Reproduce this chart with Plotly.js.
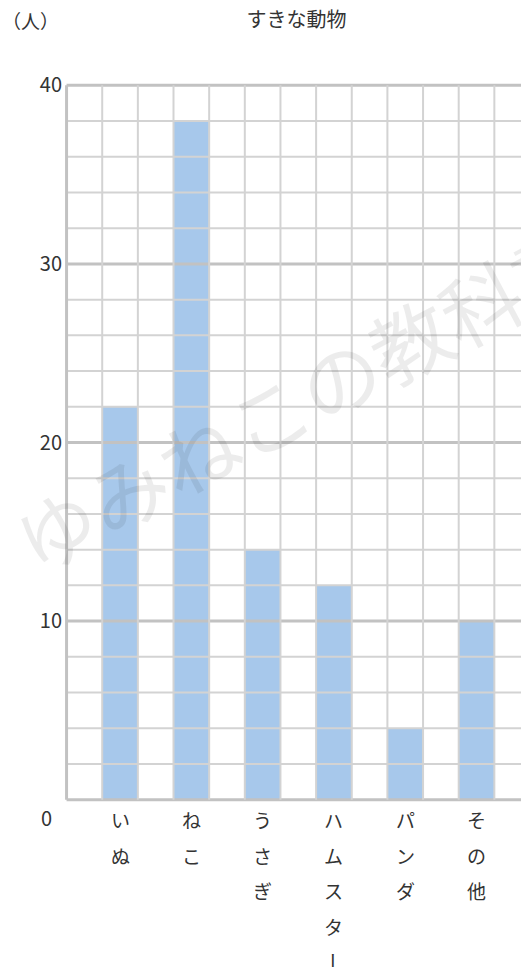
<!DOCTYPE html>
<html>
<head>
<meta charset="utf-8">
<script src="https://cdn.plot.ly/plotly-3.0.1.min.js"></script>
<style>
html,body{margin:0;padding:0;overflow:hidden;background:#fff;}
</style>
</head>
<body>
<div id="chart"></div>
<script>
// ---- data ----
const categories = ["いぬ", "ねこ", "うさぎ", "ハムスター", "パンダ", "その他"];
const counts = [22, 38, 14, 12, 4, 10];
const yTickVals = [10, 20, 30, 40];
const yTickText = ["10", "20", "30", "40"];
const titleText = "すきな動物";
const unitText = "（人）";
const watermarkText = "ゆみねこの教科書";

// ---- style ----
const FONT = "'Noto Sans CJK JP', 'Noto Sans', sans-serif";
const TEXT_COLOR = "#333333";
const BAR_COLOR = "#a7c8eb";
const MINOR = "#d3d3d3";
const MAJOR = "#c2c2c2";

const xIdx = categories.map((_, i) => i);
const yMax = 40, yMin = 0;
const xLeft = -0.75, xRight = 5.75;

const shapes = [];
// horizontal grid (every 2, heavier every 10) drawn above bars
for (let v = yMin; v <= yMax; v += 2) {
  const major = v % 10 === 0;
  shapes.push({type: "line", xref: "x", yref: "y", x0: xLeft, x1: xRight, y0: v, y1: v,
    layer: "above", line: {color: major ? MAJOR : MINOR, width: major ? 3 : 2}});
}
// vertical grid at every half category
for (let k = 0; k <= 13; k++) {
  const xv = xLeft + 0.5 * k;
  shapes.push({type: "line", xref: "x", yref: "y", x0: xv, x1: xv, y0: yMin, y1: yMax,
    layer: "above", line: {color: k === 0 ? MAJOR : MINOR, width: k === 0 ? 3 : 2}});
}

const annotations = [];
// vertical category labels, one character per row
categories.forEach((cat, i) => {
  Array.from(cat).forEach((ch, j) => {
    annotations.push({
      x: i, xref: "x", y: 0, yref: "y", yanchor: "middle", xanchor: "center",
      yshift: -(20 + 35.6 * j), text: ch, showarrow: false,
      textangle: ch === "ー" ? 90 : 0,
      font: {family: FONT, size: 19, color: TEXT_COLOR}
    });
  });
});
// zero label
annotations.push({x: -0.036, xref: "paper", y: 0, yref: "y", yshift: -18,
  xanchor: "center", yanchor: "middle", text: "0", showarrow: false,
  font: {family: FONT, size: 20, color: TEXT_COLOR}});
// unit label
annotations.push({x: -0.069, xref: "paper", y: 1.082, yref: "paper",
  xanchor: "center", yanchor: "middle", text: unitText, showarrow: false,
  font: {family: FONT, size: 19, color: TEXT_COLOR}});
// watermark
annotations.push({x: 0.513, xref: "paper", y: 0.565, yref: "paper",
  xanchor: "center", yanchor: "middle", text: watermarkText, showarrow: false,
  textangle: -28, font: {family: FONT, size: 80, color: "rgba(0,0,0,0.075)"}});

const trace = {
  type: "bar", x: xIdx, y: counts, width: 0.5,
  marker: {color: BAR_COLOR, line: {width: 0}},
  hoverinfo: "skip"
};

const layout = {
  width: 540, height: 967,
  margin: {l: 63.4, r: 9.6, t: 79.6, b: 161.7, pad: 0},
  paper_bgcolor: "#ffffff", plot_bgcolor: "#ffffff",
  showlegend: false,
  title: {text: titleText, xref: "paper", x: 0.5, xanchor: "center",
    yref: "container", y: 1 - 20 / 967, yanchor: "middle",
    font: {family: FONT, size: 20, color: TEXT_COLOR}},
  xaxis: {range: [-0.8, 5.75], showgrid: false, zeroline: false, showline: false,
    showticklabels: false, ticks: "", fixedrange: true},
  yaxis: {range: [-0.3, 40.3], tickmode: "array", tickvals: yTickVals, ticktext: yTickText,
    showgrid: false, zeroline: false, showline: false, ticks: "",
    tickfont: {family: FONT, size: 20, color: TEXT_COLOR}, fixedrange: true},
  shapes: shapes,
  annotations: annotations,
  bargap: 0
};

Plotly.newPlot("chart", [trace], layout, {displayModeBar: false, staticPlot: true});
</script>
</body>
</html>
